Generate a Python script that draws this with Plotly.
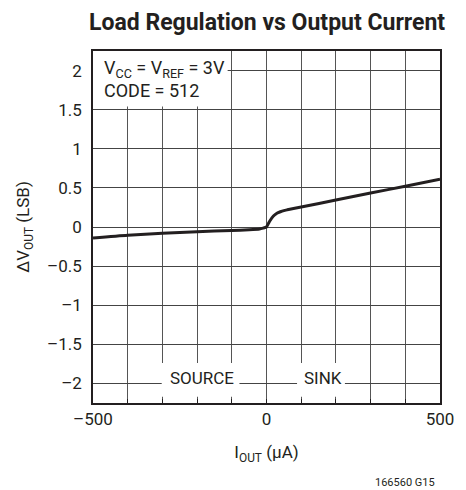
import plotly.graph_objects as go

# Data
i_out = [-500, -400, -300, -200, -100, -50, -20, -10, 0, 5, 10, 20, 30, 40, 50, 60, 100, 200, 300, 400, 500]
dv_out = [-0.14, -0.105, -0.08, -0.06, -0.045, -0.035, -0.025, -0.015, 0.0, 0.04, 0.08, 0.14, 0.175, 0.195, 0.21, 0.22, 0.255, 0.345, 0.435, 0.52, 0.61]

x_ticks = [-500, 0, 500]
x_ticktext = ["\u2013500", "0", "500"]
y_ticks = [-2, -1.5, -1, -0.5, 0, 0.5, 1, 1.5, 2]
y_ticktext = ["\u20132", "\u20131.5", "\u20131", "\u20130.5", "0", "0.5", "1", "1.5", "2"]

FONT = "Liberation Sans Narrow, Roboto, sans-serif"
INK = "#231f20"

fig = go.Figure()
fig.add_trace(go.Scatter(x=i_out, y=dv_out, mode="lines",
                         line=dict(color=INK, width=3, shape="spline", smoothing=0.6),
                         hoverinfo="skip", showlegend=False))

# white boxes covering the grid behind labels
for x0, x1, y0, y1 in [(-500, -112, 1.54, 2.25), (-302, -78, -2.17, -1.74), (88, 226, -2.17, -1.74)]:
    fig.add_shape(type="rect", xref="x", yref="y", x0=x0, x1=x1, y0=y0, y1=y1,
                  fillcolor="white", line=dict(width=0), layer="between")

fig.add_annotation(xref="x", yref="y", x=-474, y=1.89, xanchor="left", yanchor="middle",
                   text="V<sub>CC</sub> = V<sub>REF</sub> = 3V<br>CODE = 512", align="left",
                   showarrow=False, font=dict(family=FONT, size=18, color=INK))
fig.add_annotation(xref="x", yref="y", x=-186, y=-1.93, text="SOURCE", showarrow=False,
                   font=dict(family=FONT, size=17, color=INK))
fig.add_annotation(xref="x", yref="y", x=164, y=-1.93, text="SINK", showarrow=False,
                   font=dict(family=FONT, size=17, color=INK))
fig.add_annotation(xref="paper", yref="paper", x=0.5, y=1.082, yanchor="middle",
                   text="<b>Load Regulation vs Output Current</b>", showarrow=False,
                   font=dict(family=FONT, size=23, color=INK))
fig.add_annotation(xref="paper", yref="paper", x=0.99, y=-0.226, xanchor="right", yanchor="middle",
                   text="166560 G15", showarrow=False, font=dict(family=FONT, size=11, color=INK))

fig.update_xaxes(range=[-500, 500], tickvals=x_ticks, ticktext=x_ticktext,
                 showgrid=False, zeroline=False, showline=True, linecolor=INK, linewidth=1.5,
                 mirror=True, ticks="", tickfont=dict(family=FONT, size=17, color=INK),
                 title=dict(text="I<sub>OUT</sub> (\u00b5A)", font=dict(family=FONT, size=17, color=INK), standoff=18),
                 minor=dict(tickvals=list(range(-400, 500, 100)), showgrid=True, gridcolor="#555", gridwidth=1.2,
                            ticks="inside", ticklen=4, tickcolor=INK))
fig.update_yaxes(range=[-2.25, 2.25], tickvals=y_ticks, ticktext=y_ticktext,
                 showgrid=True, gridcolor="#444", gridwidth=1.2, zeroline=False,
                 showline=True, linecolor=INK, linewidth=1.5, mirror=True, ticks="",
                 tickfont=dict(family=FONT, size=17, color=INK), ticklabelstandoff=6,
                 title=dict(text="\u0394V<sub>OUT</sub> (LSB)", font=dict(family=FONT, size=17, color=INK), standoff=13))

fig.update_layout(width=466, height=490, margin=dict(l=93, r=20, t=51, b=87),
                  paper_bgcolor="white", plot_bgcolor="white", showlegend=False)

fig.write_html("out.html", config={"displayModeBar": False},
               post_script="document.body.style.margin='0';")
